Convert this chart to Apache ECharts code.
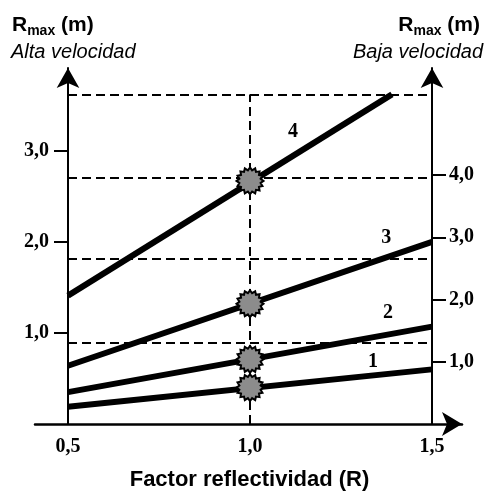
<!DOCTYPE html>
<html>
<head>
<meta charset="utf-8">
<script src="https://cdn.jsdelivr.net/npm/echarts@6/dist/echarts.min.js"></script>
<style>
  html, body { margin: 0; padding: 0; background: #fff; }
  #grafico { width: 499px; height: 495px; }
</style>
</head>
<body>
<div id="grafico"></div>
<script>
// Rectas Rmax frente al factor de reflectividad (valores en la escala izquierda)
var linea1 = [[0.5, 0.19], [1.5, 0.60]];
var linea2 = [[0.5, 0.35], [1.5, 1.07]];
var linea3 = [[0.5, 0.64], [1.5, 2.00]];
var linea4 = [[0.5, 1.41], [1.39, 3.62]];
// puntos marcados en R = 1,0
var marcadores = [[1.0, 0.40], [1.0, 0.71], [1.0, 1.32], [1.0, 2.67]];
// guias discontinuas
var guiasH = [0.89, 1.82, 2.71, 3.62];
var guiaV = 1.0;
// numero de cada recta
var etiquetas = [
    { name: '1', value: [1.338, 0.68] },
    { name: '2', value: [1.379, 1.22] },
    { name: '3', value: [1.374, 2.04] },
    { name: '4', value: [1.118, 3.21] }
];
var ticksX = [0.5, 1.0, 1.5];
var ticksIzq = [1, 2, 3];
var ticksDer = [1, 2, 3, 4];

// simbolo en estrella para los marcadores
function estrella() {
    var d = '';
    for (var k = 0; k < 32; k++) {
        var a = k * Math.PI / 16;
        var r = k % 2 ? 80 : 100;
        var x = (100 + r * Math.sin(a)).toFixed(1);
        var y = (100 - r * Math.cos(a)).toFixed(1);
        d += (k === 0 ? 'M' : 'L') + x + ' ' + y + ' ';
    }
    return 'path://' + d + 'Z';
}

function coma(v) {
    return v.toFixed(1).replace('.', ',');
}

var fuenteNum = { fontFamily: 'Liberation Serif', fontWeight: 'bold', fontSize: 20, color: '#000' };
var flecha = { show: true, symbol: ['none', 'arrow'], symbolSize: [17, 20], lineStyle: { color: '#000', width: 2 } };
var richRmax = {
    r: { fontFamily: 'Liberation Sans', fontWeight: 'bold', fontSize: 21, color: '#000', padding: [0, 0, 2, 0] },
    s: { fontFamily: 'Liberation Sans', fontWeight: 'bold', fontSize: 14, color: '#000', verticalAlign: 'bottom' }
};

function recta(datos) {
    return {
        type: 'line', data: datos, symbol: 'none', z: 3,
        lineStyle: { color: '#000', width: 6 }
    };
}

var opcion = {
    animation: false,
    title: [
        { text: '{r|R}{s|max}{r| (m)}', left: 7, top: 10, textStyle: { rich: richRmax } },
        { text: 'Alta velocidad', left: 6, top: 37, textStyle: { fontFamily: 'Liberation Sans', fontStyle: 'italic', fontWeight: 'normal', fontSize: 20, color: '#000' } },
        { text: '{r|R}{s|max}{r| (m)}', right: 14, top: 10, textStyle: { rich: richRmax } },
        { text: 'Baja velocidad', right: 11, top: 37, textStyle: { fontFamily: 'Liberation Sans', fontStyle: 'italic', fontWeight: 'normal', fontSize: 20, color: '#000' } },
        { text: 'Factor reflectividad (R)', left: 'center', top: 464, textStyle: { fontFamily: 'Liberation Sans', fontWeight: 'bold', fontSize: 22, color: '#000' } }
    ],
    grid: [
        { left: 68, right: 67, top: 68, bottom: 71 },
        { left: 35, right: 37, top: 68, bottom: 71 }
    ],
    xAxis: [
        {
            type: 'value', gridIndex: 0, min: 0.5, max: 1.5, interval: 0.5,
            axisLine: { show: false }, axisTick: { show: false }, splitLine: { show: false },
            axisLabel: Object.assign({ margin: 13, customValues: ticksX, formatter: coma }, fuenteNum)
        },
        {
            type: 'value', gridIndex: 1, min: 0, max: 1,
            axisLine: { show: true, symbol: ['none', 'arrow'], symbolSize: [18, 20], lineStyle: { color: '#000', width: 2.5 } },
            axisTick: { show: false }, axisLabel: { show: false }, splitLine: { show: false }
        }
    ],
    yAxis: [
        {
            type: 'value', gridIndex: 0, position: 'left', min: 0, max: 3.91,
            axisLine: flecha, splitLine: { show: false },
            axisTick: { show: true, inside: false, length: 14, customValues: ticksIzq, lineStyle: { color: '#000', width: 2 } },
            axisLabel: Object.assign({ margin: 19, customValues: ticksIzq, formatter: coma }, fuenteNum)
        },
        {
            type: 'value', gridIndex: 0, position: 'right', min: 0, max: 5.72,
            axisLine: flecha, splitLine: { show: false },
            axisTick: { show: true, inside: false, length: 14, customValues: ticksDer, lineStyle: { color: '#000', width: 2 } },
            axisLabel: Object.assign({ margin: 17, customValues: ticksDer, formatter: coma }, fuenteNum)
        },
        { type: 'value', gridIndex: 1, show: false, min: 0, max: 1 }
    ],
    series: [
        {
            type: 'line', data: [], xAxisIndex: 0, yAxisIndex: 0, z: 1,
            markLine: {
                silent: true, symbol: 'none', label: { show: false },
                lineStyle: { color: '#000', type: [9, 5], width: 2 },
                data: guiasH.map(function (v) { return { yAxis: v }; }).concat([
                    [{ coord: [guiaV, 0] }, { coord: [guiaV, guiasH[guiasH.length - 1]] }]
                ])
            }
        },
        recta(linea1),
        recta(linea2),
        recta(linea3),
        recta(linea4),
        {
            type: 'scatter', data: marcadores, symbol: estrella(), symbolSize: 27, z: 5,
            itemStyle: { color: '#8c8c8c', borderColor: '#000', borderWidth: 2, opacity: 1 }
        },
        {
            type: 'scatter', data: etiquetas, symbolSize: 1, z: 6,
            itemStyle: { color: '#fff', opacity: 0.01 },
            label: Object.assign({ show: true, position: 'inside', formatter: '{b}', opacity: 1, textBorderWidth: 0 }, fuenteNum)
        }
    ]
};

var grafico = echarts.init(document.getElementById('grafico'));
grafico.setOption(opcion);
</script>
</body>
</html>
